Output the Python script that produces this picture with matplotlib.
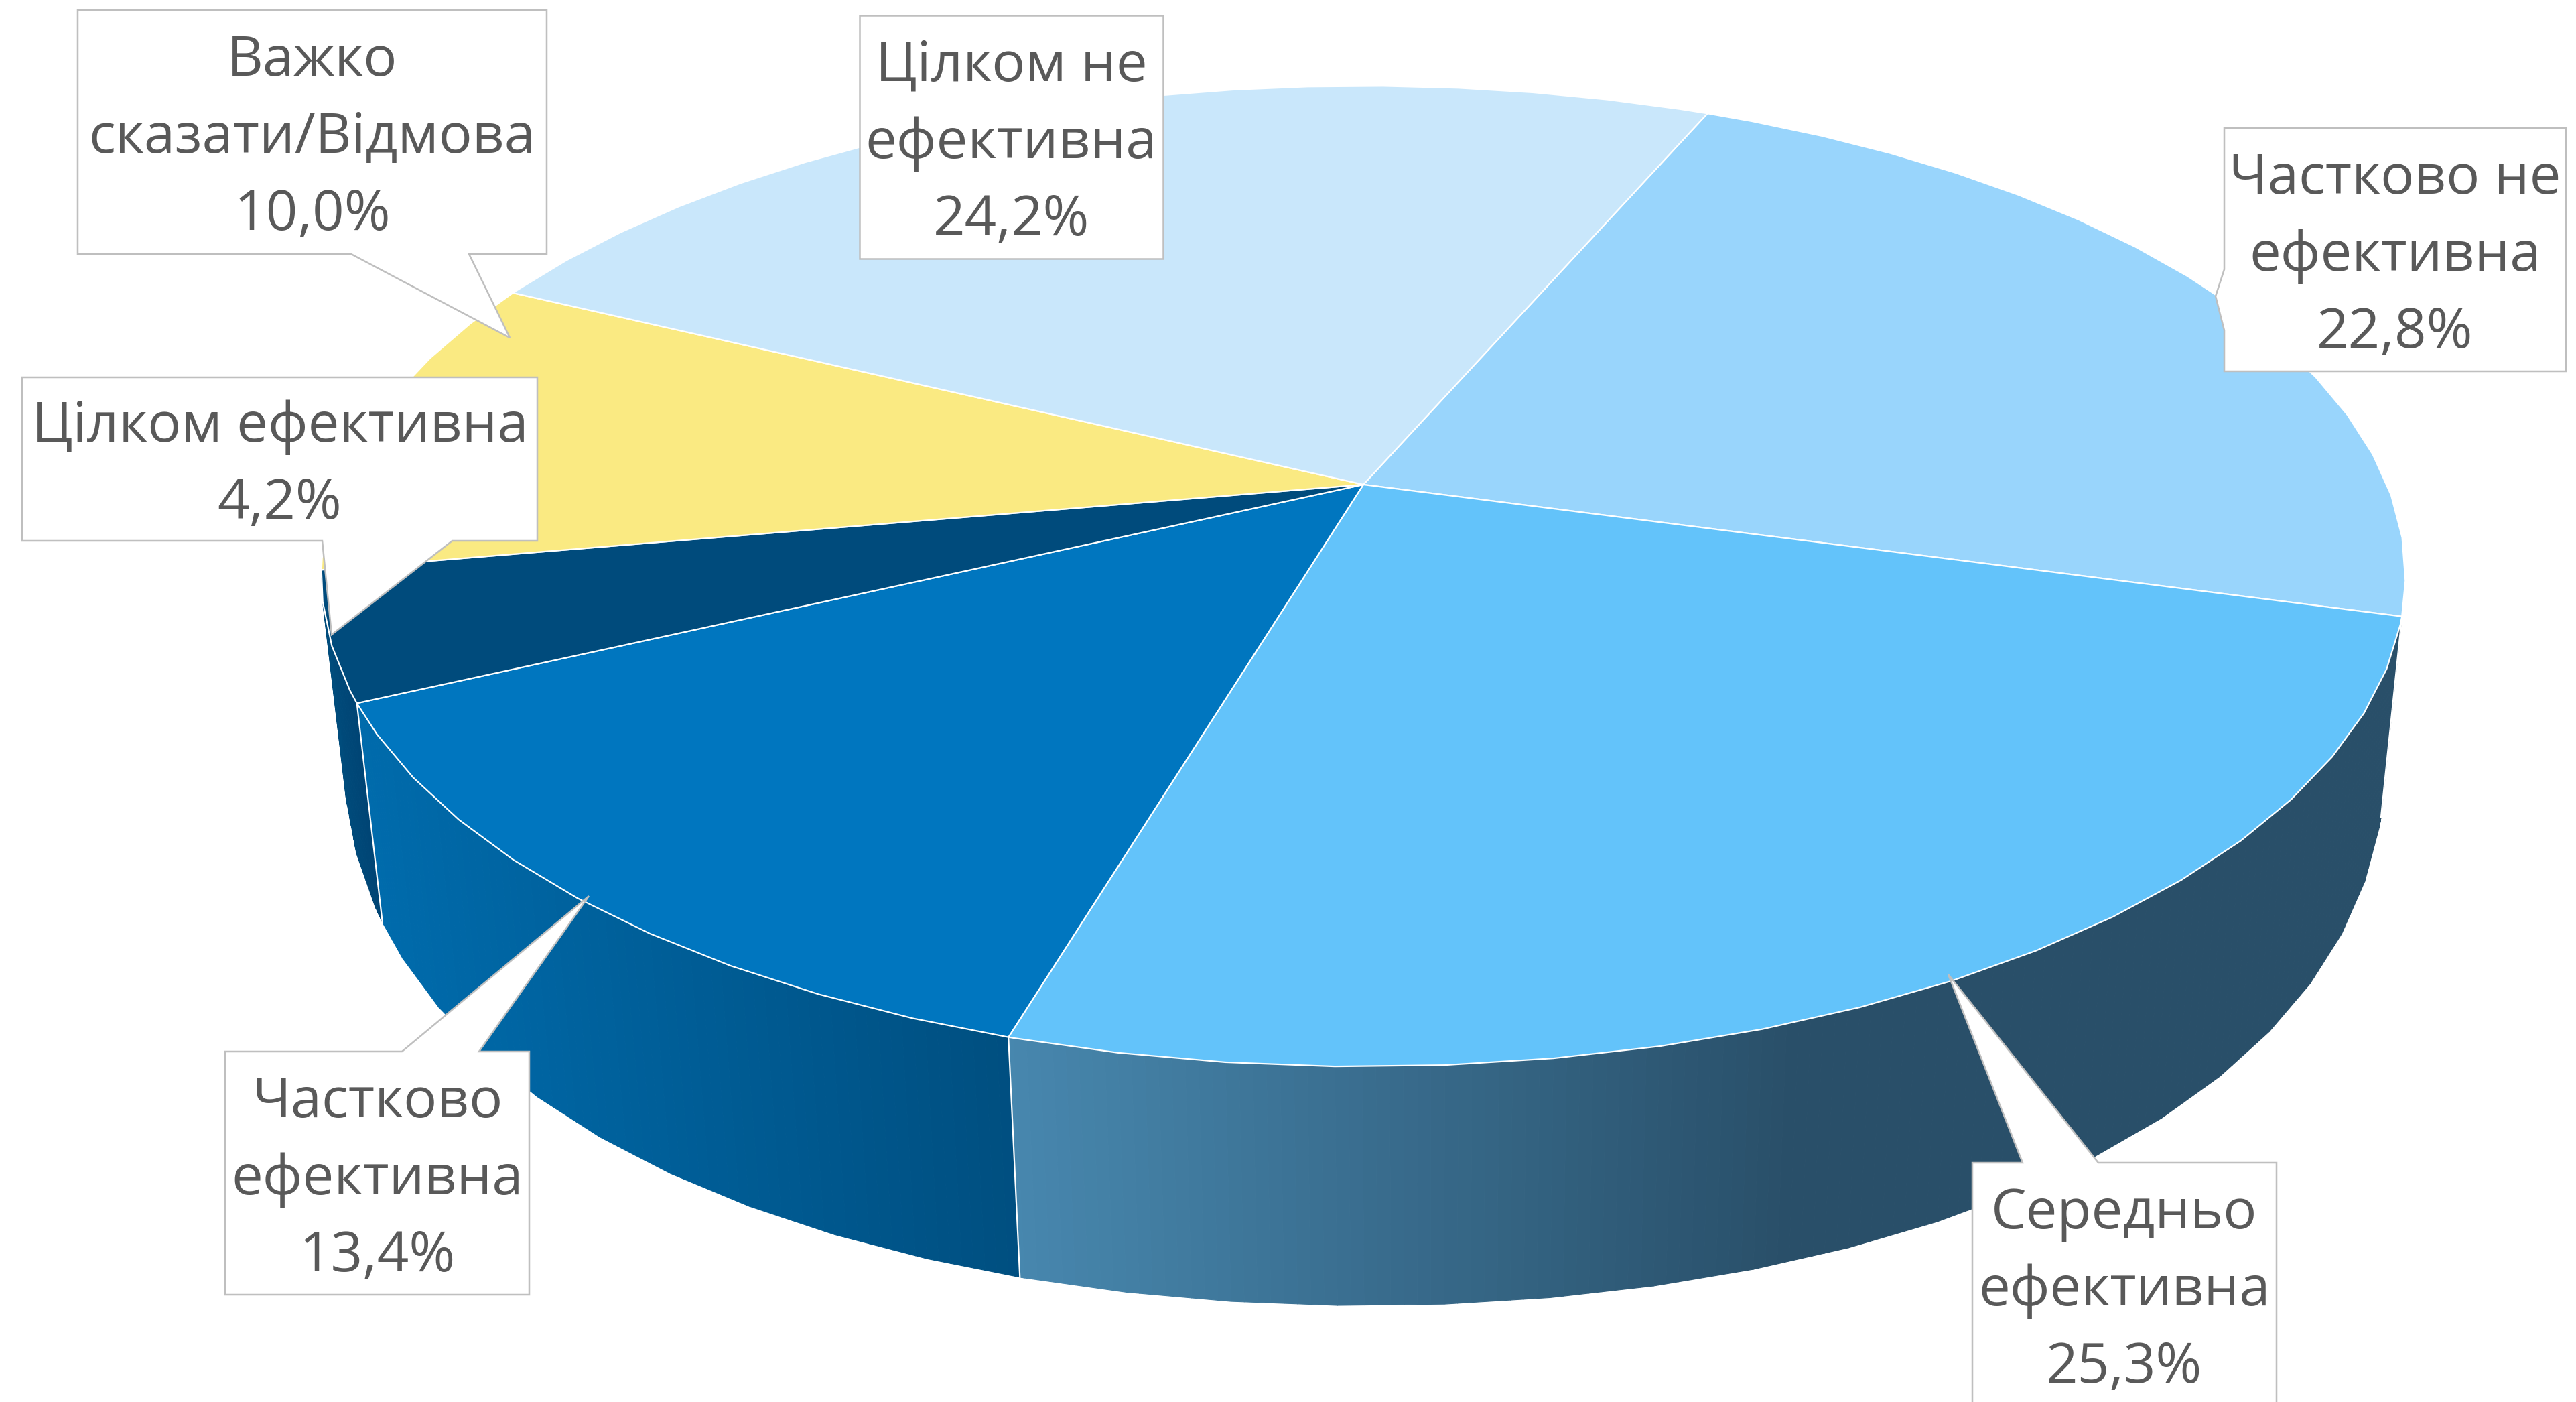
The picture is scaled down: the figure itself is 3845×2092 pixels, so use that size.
import numpy as np
import matplotlib
matplotlib.use("Agg")
import matplotlib.pyplot as plt
from matplotlib.patches import Polygon
from matplotlib.collections import PolyCollection
from matplotlib.colors import to_rgb

# ---- data ----
categories = ["Частково не\nефективна", "Середньо\nефективна", "Частково\nефективна",
              "Цілком ефективна", "Важко\nсказати/Відмова", "Цілком не\nефективна"]
values = [22.8, 25.3, 13.4, 4.2, 10.0, 24.2]
top_colors = ["#99D5FC", "#63C3FA", "#0076BF", "#004B7C", "#FAEA82", "#C9E7FB"]

# ---- style / layout ----
START = 23.2
CX, CY, A, B, K = 2035.0, 723.0, 1528.0, 706.0, -0.187
VX, VY = 2138.0, 14810.0
F0, F1, F2 = 0.01675, 0.02107, -0.01082
FACET_STEP, FACET_OFFSET = 5.0, 1.3
side_grad = {1: ("#4787AE", "#294F69", 2680.0), 2: ("#006BAC", "#004F80", 1510.0), 3: ("#004C7C", "#004070", 560.0)}
side_from = {1: 1505.0, 2: 530.0, 3: 480.0}
boxes = [(3320, 191, 3830, 554), (2944, 1735, 3398, 2098), (336, 1569, 790, 1932),
         (33, 563, 802, 807), (116, 15, 816, 379), (1283, 23, 1736, 386)]
tails = [[(3320, 402), (3307, 442), (3320, 493)],
         [(3132, 1735), (2908, 1454), (3019, 1735)],
         [(715, 1569), (879, 1337), (600, 1569)],
         [(675, 807), (495, 947), (481, 807)],
         [(700, 379), (761, 504), (524, 379)],
         []]
tail_side = ["left", "top", "top", "bottom", "bottom", None]
FONT = "Open Sans"
FS = 60
LINESPACING = 1.52
TEXT_DY = 10
TEXT = "#595959"
EDGE = "#BFBFBF"


def project(theta, bottom=False):
    t = np.radians(theta)
    u, v = np.sin(t), -np.cos(t)
    w = 1 + K * v
    x, y = CX + A * u / w, CY + B * v / w
    if bottom:
        f = F0 + F1 * v + F2 * v ** 2
        x, y = x + f * (VX - x), y + f * (VY - y)
    return x, y


def facets(a0, a1):
    inner = np.arange(np.ceil((a0 - FACET_OFFSET) / FACET_STEP) * FACET_STEP + FACET_OFFSET, a1, FACET_STEP)
    return np.unique(np.r_[a0, inner, a1])


fig = plt.figure(figsize=(38.45, 20.92), dpi=100, facecolor="white")
ax = fig.add_axes([0, 0, 1, 1])
ax.set_xlim(0, 3845)
ax.set_ylim(2092, 0)
ax.axis("off")

fr = np.array(values, float) / np.sum(values)
edges = START + 360 * np.r_[0, np.cumsum(fr)]

# side wall of the slices facing the viewer
for i in side_grad:
    ang = facets(edges[i], edges[i + 1])
    xt, yt = project(ang)
    xb, yb = project(ang, True)
    pos = np.linspace(0, len(ang) - 1, 8 * (len(ang) - 1) + 1)
    idx = np.arange(len(ang))
    xt2, yt2 = np.interp(pos, idx, xt), np.interp(pos, idx, yt)
    xb2, yb2 = np.interp(pos, idx, xb), np.interp(pos, idx, yb)
    c0, c1, xend = side_grad[i]
    c0, c1 = np.array(to_rgb(c0)), np.array(to_rgb(c1))
    quads, cols = [], []
    for j in range(len(pos) - 1):
        quads.append([(xt2[j], yt2[j]), (xt2[j + 1], yt2[j + 1]), (xb2[j + 1], yb2[j + 1]), (xb2[j], yb2[j])])
        xm = 0.5 * (xt2[j] + xt2[j + 1])
        s = np.clip((xm - side_from[i]) / (xend - side_from[i]), 0, 1)
        cols.append(c0 + (c1 - c0) * s)
    ax.add_collection(PolyCollection(quads, facecolors=cols, edgecolors=cols, linewidths=0.8, zorder=2))
    ax.plot([xt[0], xb[0]], [yt[0], yb[0]], color="white", lw=1.6, zorder=3)

# top face
for i, col in enumerate(top_colors):
    ang = facets(edges[i], edges[i + 1])
    xt, yt = project(ang)
    pts = np.r_[[[CX, CY]], np.c_[xt, yt]]
    ax.add_patch(Polygon(pts, closed=True, facecolor=col, edgecolor="white", lw=1.6, joinstyle="round", zorder=4))

# callout labels
for cat, val, (x0, y0, x1, y1), tail, side in zip(categories, values, boxes, tails, tail_side):
    if side == "left":
        pts = [(x0, y0), (x1, y0), (x1, y1), (x0, y1)] + tail[::-1]
    elif side == "top":
        pts = [(x0, y0)] + tail[::-1] + [(x1, y0), (x1, y1), (x0, y1)]
    elif side == "bottom":
        pts = [(x0, y0), (x1, y0), (x1, y1)] + tail + [(x0, y1)]
    else:
        pts = [(x0, y0), (x1, y0), (x1, y1), (x0, y1)]
    ax.add_patch(Polygon(pts, closed=True, facecolor="white", edgecolor=EDGE, lw=1.8, zorder=6))
    label = f"{cat}\n{val:.1f}%".replace(".", ",")
    ax.text((x0 + x1) / 2, (y0 + y1) / 2 + TEXT_DY, label, ha="center", va="center", family=FONT,
            fontsize=FS, color=TEXT, linespacing=LINESPACING, multialignment="center", zorder=7)

fig.savefig("out.png", dpi=100, facecolor="white")
